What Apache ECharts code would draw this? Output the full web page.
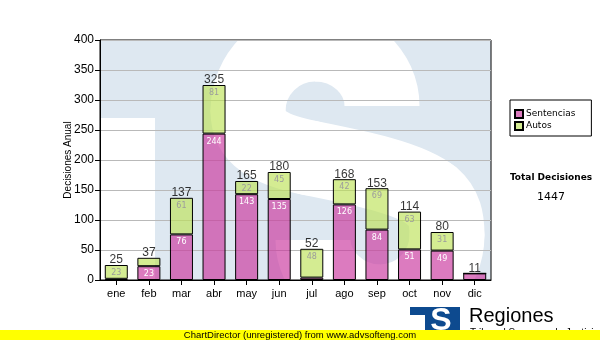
<!DOCTYPE html>
<html>
<head>
<meta charset="utf-8">
<script src="https://cdn.jsdelivr.net/npm/echarts@6/dist/echarts.min.js"></script>
<style>
  html, body { margin: 0; padding: 0; background: #fff; }
  #chart { width: 600px; height: 340px; }
</style>
</head>
<body>
<div id="chart"></div>
<script>
// Monthly decisions, split into sentences and rulings
const months = ['ene', 'feb', 'mar', 'abr', 'may', 'jun', 'jul', 'ago', 'sep', 'oct', 'nov', 'dic'];
const sentencias = [2, 23, 76, 244, 143, 135, 4, 126, 84, 51, 49, 11];
const autos = [23, 14, 61, 81, 22, 45, 48, 42, 69, 63, 31, 0];
const yMin = 0, yMax = 400, yStep = 50;

const totals = months.map((m, i) => sentencias[i] + autos[i]);
const grandTotal = totals.reduce((a, b) => a + b, 0);

const chart = echarts.init(document.getElementById('chart'), null, { renderer: 'canvas' });

const WM_BLUE = '#dee8f1';
const SANS = 'Liberation Sans, Arial, sans-serif';
const SMALL = 'DejaVu Sans, Verdana, sans-serif';

// Watermark "S" drawn as a thick stroked curve, piece by piece
function sPiece(p, cap) {
  return {
    type: 'bezierCurve', z: -1, silent: true,
    shape: { x1: p[0], y1: p[1], cpx1: p[2], cpy1: p[3], cpx2: p[4], cpy2: p[5], x2: p[6], y2: p[7] },
    style: { stroke: '#ffffff', lineWidth: 75, lineCap: cap, fill: null }
  };
}
const sPieces = [
  [[382, 106, 382, 72, 352, 44, 315, 44], 'butt'],
  [[315, 44, 278, 44, 248, 74, 248, 111], 'round'],
  [[248, 111, 248, 138, 270, 150, 310, 158], 'round'],
  [[310, 158, 360, 168, 410, 178, 432, 196], 'round'],
  [[432, 196, 445, 207, 447, 220, 447, 235], 'round'],
  [[447, 235, 447, 272, 417, 302, 380, 302], 'round'],
  [[380, 302, 343, 302, 313, 272, 313, 240], 'butt']
];

const graphics = [
  // watermark block behind the plot
  { type: 'rect', z: -2, silent: true, shape: { x: 155, y: 40, width: 336, height: 240 }, style: { fill: WM_BLUE } },
  { type: 'rect', z: -2, silent: true, shape: { x: 100, y: 40, width: 55, height: 78 }, style: { fill: WM_BLUE } }
].concat(sPieces.map(s => sPiece(s[0], s[1]))).concat([
  // total box under the legend
  { type: 'text', z: 10, style: { x: 551, y: 178, text: 'Total Decisiones', font: 'bold 9px ' + SMALL, fill: '#000', align: 'center', verticalAlign: 'middle' } },
  { type: 'text', z: 10, style: { x: 551, y: 197, text: String(grandTotal), font: '11px ' + SMALL, fill: '#000', align: 'center', verticalAlign: 'middle' } },
  // logo
  { type: 'rect', z: 10, shape: { x: 410, y: 307, width: 50, height: 8 }, style: { fill: '#0d4a8f' } },
  { type: 'rect', z: 10, shape: { x: 425, y: 307, width: 35, height: 26 }, style: { fill: '#0d4a8f' } },
  { type: 'text', z: 11, style: { x: 441, y: 321, text: 'S', font: 'bold 32px ' + SANS, fill: '#fff', align: 'center', verticalAlign: 'middle' } },
  { type: 'text', z: 11, style: { x: 469, y: 306, text: 'Regiones', font: '20px ' + SANS, fill: '#000', align: 'left', verticalAlign: 'top' } },
  { type: 'text', z: 11, style: { x: 470, y: 328, text: 'Tribunal Supremo de Justicia', font: '10px ' + SANS, fill: '#000', align: 'left', verticalAlign: 'top' } },
  // footer strip
  { type: 'rect', z: 20, shape: { x: 0, y: 330, width: 600, height: 10 }, style: { fill: '#ffff00' } },
  { type: 'text', z: 21, style: { x: 300, y: 335.5, text: 'ChartDirector (unregistered) from www.advsofteng.com', font: '9.5px ' + SANS, fill: '#000', align: 'center', verticalAlign: 'middle' } }
]);

const innerLabel = (color) => ({
  show: true, position: 'insideTop', distance: 4,
  color: color, fontSize: 8, fontFamily: SMALL,
  formatter: p => (p.value >= 20 ? String(p.value) : '')
});

const option = {
  animation: false,
  backgroundColor: '#fff',
  textStyle: { fontFamily: SANS },
  grid: {
    left: 100, top: 40, width: 391, height: 240,
    show: true, borderColor: '#000', borderWidth: 1, backgroundColor: 'transparent',
    outerBoundsMode: 'none', containLabel: false
  },
  legend: {
    orient: 'vertical', left: 510, top: 100,
    icon: 'rect', itemWidth: 8, itemHeight: 8, itemGap: 2,
    padding: [9, 16, 5, 4],
    backgroundColor: '#fff', borderColor: '#000', borderWidth: 1,
    textStyle: { fontFamily: SMALL, fontSize: 9, color: '#000', padding: [0, 0, 0, -2] },
    data: ['Sentencias', 'Autos']
  },
  xAxis: {
    type: 'category', data: months,
    axisLine: { show: true, lineStyle: { color: '#000', width: 1 } },
    axisTick: { show: true, alignWithLabel: true, length: 5, lineStyle: { color: '#000' } },
    axisLabel: { color: '#000', fontSize: 11, margin: 8, fontFamily: SANS },
    splitLine: { show: false }
  },
  yAxis: {
    type: 'value', min: yMin, max: yMax, interval: yStep,
    name: 'Decisiones Anual', nameLocation: 'middle', nameGap: 27, nameMoveOverlap: false,
    nameTextStyle: { color: '#000', fontSize: 10, fontFamily: SANS },
    axisLine: { show: true, lineStyle: { color: '#000', width: 1 } },
    axisTick: { show: true, length: 5, lineStyle: { color: '#000' } },
    axisLabel: { color: '#000', fontSize: 12, margin: 6, fontFamily: SANS },
    splitLine: { show: true, lineStyle: { color: '#b9b9b9', width: 1 } }
  },
  series: [
    {
      name: 'Sentencias', type: 'bar', stack: 'dec', data: sentencias, barWidth: 23,
      itemStyle: { color: 'rgba(201,52,157,0.65)', borderColor: '#000', borderWidth: 1 },
      label: innerLabel('#ffffff')
    },
    {
      name: 'Autos', type: 'bar', stack: 'dec', data: autos, barWidth: 23,
      itemStyle: { color: 'rgba(189,226,88,0.65)', borderColor: '#000', borderWidth: 1 },
      label: innerLabel('#9c9c9c')
    },
    {
      name: 'Total', type: 'scatter', data: totals, symbolSize: 1, z: 5,
      itemStyle: { color: 'rgba(0,0,0,0)' },
      label: { show: true, position: 'top', distance: 0, offset: [0, 1.5], color: '#000', fontSize: 12, fontFamily: SANS },
      tooltip: { show: false }
    }
  ],
  graphic: { elements: graphics }
};

chart.setOption(option);
</script>
</body>
</html>
